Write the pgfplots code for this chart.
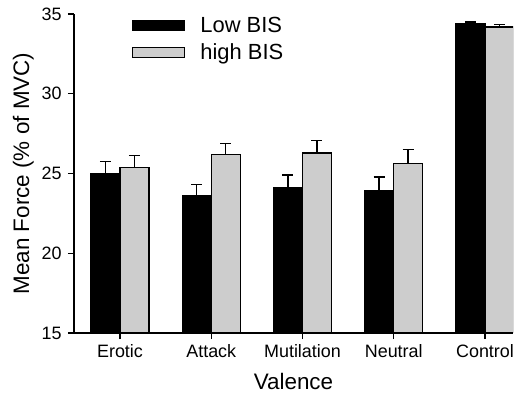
\documentclass[border=0pt]{standalone}
\usepackage{fontspec}
\setmainfont{Liberation Sans}
\usepackage{pgfplots}
\pgfplotsset{compat=1.18}
\definecolor{hgray}{RGB}{205,205,205}
\begin{document}
\begin{tikzpicture}
\useasboundingbox (-74bp,-62bp) rectangle (449bp,333bp);
\begin{axis}[
  at={(0,0)}, anchor=south west,
  scale only axis,
  width=439bp, height=319bp,
  ybar,
  xmin=-0.504, xmax=4.307,
  ymin=15, ymax=35,
  ytick={15,20,25,30,35},
  xtick={0,1,2,3,4},
  xticklabels={Erotic,Attack,Mutilation,Neutral,Control},
  axis x line*=bottom,
  axis y line*=left,
  axis line style={line width=1.2bp},
  tick style={line width=1.2bp, black},
  tick align=outside,
  major tick length=6bp,
  /pgf/number format/assume math mode=true,
  tick label style={font=\fontsize{18}{21}\selectfont},
  yticklabel style={xshift=-3bp},
  xticklabel style={yshift=-2bp},
  xlabel={Valence},
  ylabel={Mean Force (\% of MVC)},
  label style={font=\fontsize{22.5}{26}\selectfont},
  xlabel style={yshift=-9bp},
  ylabel style={yshift=1bp},
  bar width=0.318,
  legend image code/.code={\draw[#1,/tikz/.cd] (0bp,-5bp) rectangle (52bp,5bp); \path (65bp,0bp);},
  legend style={at={(axis description cs:0.132,0.998)}, anchor=north west,
    draw=none, fill=none, inner sep=0pt,
    font=\fontsize{22}{26}\selectfont,
    row sep=6.5bp,
    cells={anchor=west}},
  legend cell align=left,
  error bars/y dir=plus,
  error bars/y explicit,
  error bars/error bar style={line width=1.5bp, black},
  error bars/error mark options={rotate=90, mark size=5.5bp, line width=1.5bp, black},
]
\addplot[bar shift=-0.159, fill=black, draw=black, line width=1.3bp]
  coordinates {(0,24.98) +- (0,0.76) (1,23.61) +- (0,0.69) (2,24.11) +- (0,0.81) (3,23.92) +- (0,0.86) (4,34.37) +- (0,0.13)};
\addlegendentry{Low BIS}
\addplot[bar shift=0.159, fill=hgray, draw=black, line width=1.3bp]
  coordinates {(0,25.36) +- (0,0.78) (1,26.20) +- (0,0.67) (2,26.29) +- (0,0.79) (3,25.64) +- (0,0.85) (4,34.18) +- (0,0.17)};
\addlegendentry{high BIS}
\end{axis}
\end{tikzpicture}
\end{document}
